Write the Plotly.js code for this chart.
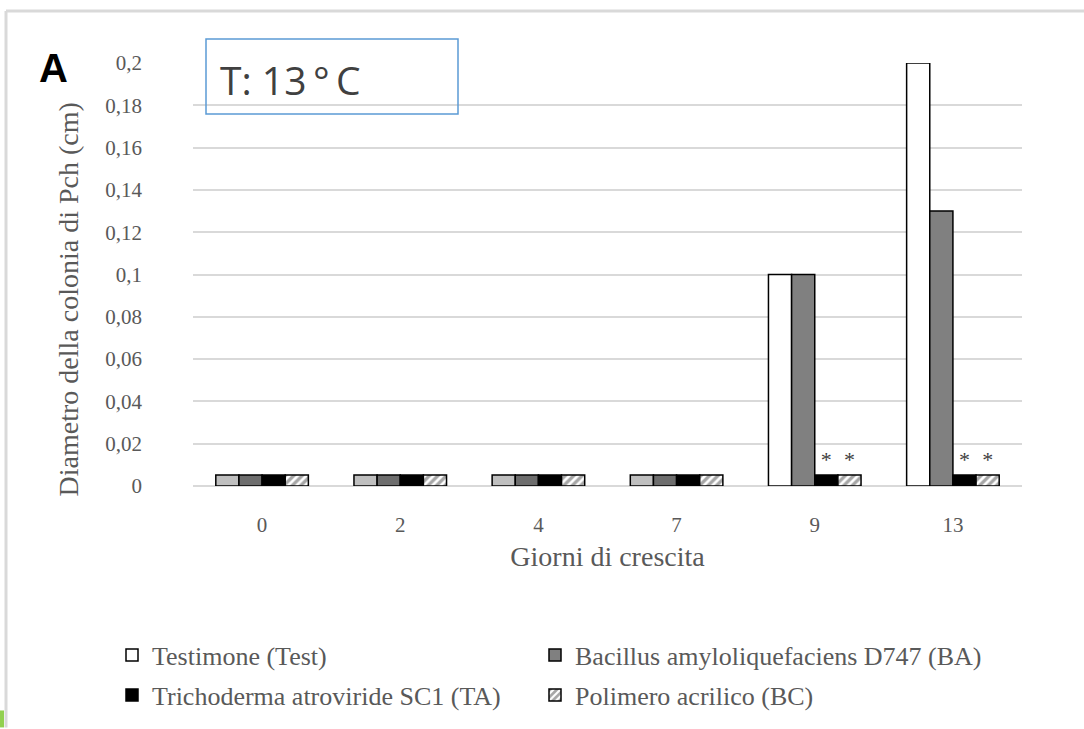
<!DOCTYPE html>
<html>
<head>
<meta charset="utf-8">
<script src="https://cdn.plot.ly/plotly-3.0.1.min.js"></script>
<style>html,body{margin:0;padding:0;background:#fff}#chart{width:1084px;height:729px}</style>
</head>
<body>
<div id="chart"></div>
<script>
// ---- data ----
const days = ['0', '2', '4', '7', '9', '13'];
const seriesNames = ['Testimone (Test)', 'Bacillus amyloliquefaciens D747 (BA)', 'Trichoderma atroviride SC1 (TA)', 'Polimero acrilico (BC)'];
const testValues = [0, 0, 0, 0, 0.1, 0.2];
const baValues = [0, 0, 0, 0, 0.1, 0.13];
const taValues = [0, 0, 0, 0, 0, 0];
const bcValues = [0, 0, 0, 0, 0, 0];
const taSignif = ['', '', '', '', '*', '*'];
const bcSignif = ['', '', '', '', '*', '*'];
const yTicks = [0, 0.02, 0.04, 0.06, 0.08, 0.1, 0.12, 0.14, 0.16, 0.18, 0.2];

// ---- layout geometry ----
const W = 1084, H = 729;
const ML = 193, MR = 62, MT = 63, MB = 242;
const PW = W - ML - MR, PH = H - MT - MB;
const px = v => (v - ML) / PW;
const py = v => (H - MB - v) / PH;
const SLAB = 0.0052; // visual thickness of the floor tile for zero values

const serif = 'Liberation Serif, Times New Roman, serif';
const grey = '#595959';
const lineStyle = {color: '#000000', width: 1.5};

const styles = [
  {color: '#ffffff', slab: '#bfbfbf', legend: 'legend'},
  {color: '#808080', slab: '#6d6d6d', legend: 'legend2'},
  {color: '#000000', slab: '#000000', legend: 'legend3'},
  {color: '#a6a6a6', slab: '#a6a6a6', legend: 'legend4', pattern: {shape: '/', fgcolor: '#ffffff', bgcolor: '#a6a6a6', size: 6, solidity: 0.45}}
];
const allValues = [testValues, baValues, taValues, bcValues];
const signifs = [null, null, taSignif, bcSignif];

const traces = [];
allValues.forEach((vals, i) => {
  const st = styles[i];
  const marker = {color: st.color, line: lineStyle};
  if (st.pattern) marker.pattern = st.pattern;
  traces.push({
    type: 'bar', x: days, y: vals, name: seriesNames[i], legend: st.legend,
    offsetgroup: 'g' + i, marker: marker, hoverinfo: 'x+y+name'
  });
});
allValues.forEach((vals, i) => {
  const st = styles[i];
  const marker = {color: st.slab, line: lineStyle};
  if (st.pattern) marker.pattern = st.pattern;
  const tr = {
    type: 'bar', x: days, y: vals.map(v => v === 0 ? SLAB : null),
    offsetgroup: 'g' + i, marker: marker, showlegend: false, hoverinfo: 'skip'
  };
  if (signifs[i]) {
    tr.text = signifs[i];
    tr.textposition = 'outside';
    tr.cliponaxis = false;
    tr.outsidetextfont = {family: serif, size: 22, color: '#404040'};
  }
  traces.push(tr);
});

const legendCommon = {
  orientation: 'h', xanchor: 'left', yanchor: 'middle', itemwidth: 30,
  font: {family: serif, size: 26, color: grey}, bgcolor: 'rgba(0,0,0,0)'
};

const layout = {
  width: W, height: H,
  margin: {l: ML, r: MR, t: MT, b: MB},
  paper_bgcolor: '#ffffff', plot_bgcolor: '#ffffff',
  separators: ',.',
  barmode: 'group', bargap: 0.33, bargroupgap: 0,
  font: {family: serif, color: grey, size: 18},
  showlegend: true,
  xaxis: {
    type: 'category', showgrid: false, zeroline: false, showline: false,
    ticks: '', ticklabelstandoff: 24,
    tickfont: {family: serif, size: 21, color: grey},
    title: {text: 'Giorni di crescita', font: {family: serif, size: 28, color: grey}, standoff: 10}
  },
  yaxis: {
    range: [0, 0.2], tickvals: yTicks, showgrid: true, gridcolor: '#d9d9d9', gridwidth: 2,
    zeroline: true, zerolinecolor: '#d9d9d9', zerolinewidth: 2, showline: false,
    ticks: '', ticklabelstandoff: 50,
    tickfont: {family: serif, size: 21, color: grey}
  },
  legend: Object.assign({}, legendCommon, {x: px(112), y: py(655)}),
  legend2: Object.assign({}, legendCommon, {x: px(535), y: py(655)}),
  legend3: Object.assign({}, legendCommon, {x: px(112), y: py(695)}),
  legend4: Object.assign({}, legendCommon, {x: px(535), y: py(695)}),
  shapes: [
    {type: 'line', xref: 'paper', yref: 'paper', x0: px(6), x1: px(1084), y0: py(11), y1: py(11), line: {color: '#d9d9d9', width: 3}},
    {type: 'line', xref: 'paper', yref: 'paper', x0: px(6), x1: px(6), y0: py(11), y1: py(729), line: {color: '#d9d9d9', width: 3}},
    {type: 'rect', xref: 'paper', yref: 'paper', x0: px(0), x1: px(4), y0: py(712), y1: py(729), fillcolor: '#92d050', line: {width: 0}},
    {type: 'rect', xref: 'paper', yref: 'paper', x0: px(206), x1: px(458), y0: py(39), y1: py(114), fillcolor: 'rgba(255,255,255,0)', line: {color: '#5b9bd5', width: 1.5}}
  ],
  annotations: [
    {text: 'Diametro della colonia di Pch (cm)', xref: 'paper', yref: 'paper', x: px(68), y: py(300),
     xanchor: 'center', yanchor: 'middle', textangle: -90, showarrow: false,
     font: {family: serif, size: 28, color: grey}},
    {text: '<b>A</b>', xref: 'paper', yref: 'paper', x: px(53), y: py(68), xanchor: 'center', yanchor: 'middle', showarrow: false,
     font: {family: 'Liberation Sans, Arial, sans-serif', size: 40, color: '#000000'}},
    {text: 'T: 13\u2009°\u2009C', xref: 'paper', yref: 'paper', x: px(218), y: py(80), xanchor: 'left', yanchor: 'middle', showarrow: false,
     font: {family: 'Open Sans, Noto Sans, sans-serif', size: 39, color: '#404040'}}
  ]
};

Plotly.newPlot('chart', traces, layout, {displayModeBar: false, responsive: false});
</script>
</body>
</html>
